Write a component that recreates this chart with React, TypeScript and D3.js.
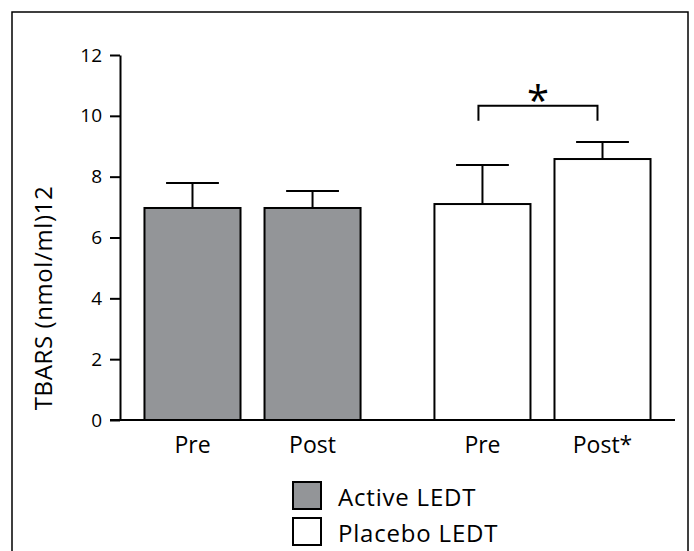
import { useEffect, useRef } from 'react';
import * as d3 from 'd3';

// groups and conditions
const groups = ['Active LEDT', 'Placebo LEDT'];
const phases = ['Pre', 'Post'];
const barLabels = [['Pre', 'Post'], ['Pre', 'Post*']];
// TBARS means and upper SD
const meanValues = [[6.97, 6.97], [7.1, 8.58]];
const errorValues = [[0.82, 0.56], [1.28, 0.56]];
const yTicks = [0, 2, 4, 6, 8, 10, 12];
const groupFills = ['#939598', '#ffffff'];
// significance bracket between placebo Pre and Post
const bracketTop = 10.33;
const bracketLeg = 9.84;

const FONT = '"Open Sans", sans-serif';

const App = () => {
  const ref = useRef<SVGSVGElement>(null);

  useEffect(() => {
    const svg = d3.select(ref.current);
    svg.selectAll('*').remove();

    const y0 = 420;
    const y1 = 55;

    // frame around the figure
    svg.append('rect')
      .attr('x', 12).attr('y', 12)
      .attr('width', 676).attr('height', 560)
      .attr('fill', 'none')
      .attr('stroke', '#000')
      .attr('stroke-width', 1.5);

    const scaleY = d3.scaleLinear().domain([0, 12]).range([y0, y1]);
    const scaleGroup = d3.scaleBand<string>()
      .domain(groups)
      .range([120, 675])
      .paddingInner(0.172)
      .paddingOuter(0.043);
    const scaleBar = d3.scaleBand<string>()
      .domain(phases)
      .range([0, scaleGroup.bandwidth()])
      .paddingInner(0.2)
      .paddingOuter(0.1);

    // y axis
    const yAxis = d3.axisLeft(scaleY)
      .tickValues(yTicks)
      .tickSize(10)
      .tickPadding(8)
      .tickSizeOuter(0);
    const yAxisGroup = svg.append('g')
      .attr('transform', 'translate(120, 0)')
      .call(yAxis);
    yAxisGroup.select('.domain').attr('stroke-width', 2);
    yAxisGroup.selectAll('.tick line').attr('stroke-width', 2);
    yAxisGroup.selectAll('.tick text')
      .attr('font-family', FONT)
      .attr('font-size', 19)
      .attr('fill', '#000');

    // y label
    svg.append('text')
      .attr('transform', 'translate(52, 298) rotate(-90)')
      .attr('text-anchor', 'middle')
      .attr('font-family', FONT)
      .attr('font-size', 24)
      .attr('letter-spacing', 0.6)
      .text('TBARS (nmol/ml)12');

    // bars
    groups.forEach((g, gi) => {
      const gx = scaleGroup(g) as number;
      phases.forEach((p, pi) => {
        const x = gx + (scaleBar(p) as number);
        const w = scaleBar.bandwidth();
        const cx = x + w / 2;
        const v = meanValues[gi][pi];
        const e = v + errorValues[gi][pi];
        // error bar
        svg.append('line')
          .attr('x1', cx).attr('x2', cx)
          .attr('y1', scaleY(v)).attr('y2', scaleY(e))
          .attr('stroke', '#000').attr('stroke-width', 2);
        svg.append('line')
          .attr('x1', cx - w * 0.275).attr('x2', cx + w * 0.275)
          .attr('y1', scaleY(e)).attr('y2', scaleY(e))
          .attr('stroke', '#000').attr('stroke-width', 2);
        svg.append('rect')
          .attr('x', x).attr('y', scaleY(v))
          .attr('width', w).attr('height', scaleY(0) - scaleY(v))
          .attr('fill', groupFills[gi])
          .attr('stroke', '#000')
          .attr('stroke-width', 2);
        svg.append('text')
          .attr('x', cx).attr('y', 453)
          .attr('text-anchor', 'middle')
          .attr('font-family', FONT)
          .attr('font-size', 23)
          .text(barLabels[gi][pi]);
      });
    });

    // x axis line
    svg.append('line')
      .attr('x1', 110).attr('x2', 675)
      .attr('y1', y0).attr('y2', y0)
      .attr('stroke', '#000').attr('stroke-width', 2);

    // significance bracket
    const pg = scaleGroup(groups[1]) as number;
    const bx1 = pg + (scaleBar(phases[0]) as number) + 44;
    const bx2 = pg + (scaleBar(phases[1]) as number) + 43;
    svg.append('path')
      .attr('d', `M${bx1},${scaleY(bracketLeg)}V${scaleY(bracketTop)}H${bx2}V${scaleY(bracketLeg)}`)
      .attr('fill', 'none')
      .attr('stroke', '#000')
      .attr('stroke-width', 2);
    svg.append('text')
      .attr('x', (bx1 + bx2) / 2).attr('y', scaleY(bracketTop) + 9)
      .attr('text-anchor', 'middle')
      .attr('font-family', FONT)
      .attr('font-size', 40)
      .text('*');

    // legend
    groups.forEach((g, i) => {
      const ly = 482 + i * 36;
      svg.append('rect')
        .attr('x', 293).attr('y', ly)
        .attr('width', 28).attr('height', 27)
        .attr('fill', groupFills[i])
        .attr('stroke', '#000')
        .attr('stroke-width', 2);
      svg.append('text')
        .attr('x', 338).attr('y', ly + 24)
        .attr('font-family', FONT)
        .attr('font-size', 24)
        .attr('letter-spacing', 0.8)
        .text(g);
    });
  }, []);

  return (
    <svg ref={ref} width={694} height={551} style={{ position: 'absolute', left: 0, top: 0 }} />
  );
};

export default App;
